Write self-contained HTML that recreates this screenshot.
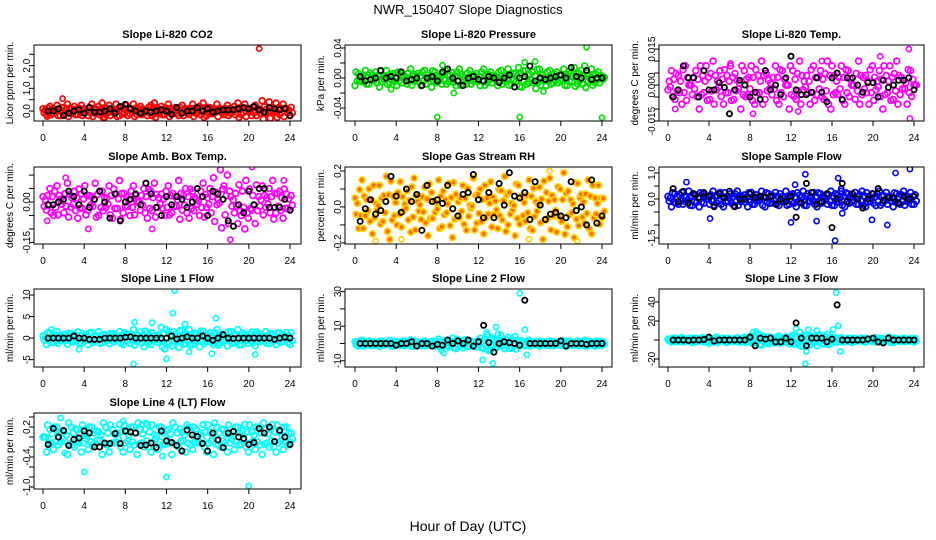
<!DOCTYPE html>
<html><head><meta charset="utf-8"><style>
html,body{margin:0;padding:0;background:#fff;}
svg{display:block;font-family:"Liberation Sans",Arial,sans-serif;}
</style></head><body>
<svg id="chart" width="936" height="540" viewBox="0 0 936 540" xmlns="http://www.w3.org/2000/svg">
<text x="468" y="14" text-anchor="middle" font-size="13">NWR_150407  Slope Diagnostics</text>
<text x="468" y="531" text-anchor="middle" font-size="14">Hour of Day (UTC)</text>
</svg>
<script>
// ---- data ----
const p1Color=[0.1,-0.15,0.2,-0.1,0.25,-0.2,0.15,0.3,-0.1,0.2,-0.15,0.25,0.05,-0.2,0.3,-0.1,0.2,0.35,-0.15,0.25,-0.05,0.3,-0.2,0.15,0.25,-0.1,0.3,-0.15,0.2,0.05,-0.2,0.25,0.35,-0.1,0.2,-0.15,0.3,-0.05,0.15,-0.2,0.25,0.1,-0.15,0.3,-0.1,0.2,0.35,-0.2,0.15,-0.1,0.3,0.05,-0.15,0.25,-0.1,0.2,0.35,-0.15,0.3,0.05,-0.2,0.25,0.1,0.45,-0.1,0.4,0.05,0.35,-0.15,0.3,0.1,-0.2];
const p1OutH=[1.9,21,0.4,6,17.4];
const p1OutV=[0.55,2.75,-0.25,-0.3,-0.1];
const p1Black=[0,0,0.1,-0.2,-0.1,0,0.05,-0.1,0.15,-0.05,-0.05,0,0.1,-0.1,0.2,0.3,0.1,0,-0.1,0,-0.05,0,0.05,0,-0.15,0.15,-0.1,0,0,0.15,0,0.1,-0.05,0,0.05,0.05,0.05,0.1,0.15,0.1,0.2,0.05,-0.05,0.15,0.1,0.05,0.1,-0.2];

const p2Color=[-0.01,0.005,-0.005,0.01,-0.008,0.004,0.008,-0.012,0.002,0.01,-0.006,0.006,-0.01,0.008,0.003,-0.008,0.012,-0.004,0.006,-0.01,0.01,0,-0.012,0.008,0.004,-0.008,0.01,-0.005,0.007,-0.01,0.012,0.002,-0.008,0.01,-0.004,0.006,-0.01,0.012,-0.006,0.008,0.002,-0.01,0.01,-0.004,0.012,-0.008,0.006,0.014,-0.012,0.01,-0.006,0.008,-0.014,0.012,0.004,-0.01,0.01,-0.006,0.008,-0.004,0.012,-0.01,0.006,0.014,-0.008,0.01,0.016,-0.004,0.012,-0.006,0.008,0.002];
const p2OutH=[8,16,24,22.5,8.5,9.6,16.5,17.5,3.5,18.3];
const p2OutV=[-0.052,-0.052,-0.053,0.041,0.017,-0.02,0.021,0.022,-0.015,-0.018];
const p2Black=[0.002,-0.004,-0.002,0,0.01,0,0.002,0,0.008,-0.004,-0.002,0,-0.01,0,0.002,-0.004,0.008,0.012,0,-0.004,-0.01,0,0.002,-0.002,-0.004,0.002,0,-0.006,0,0.004,-0.012,0,0.002,0.016,-0.004,0,-0.002,0,0.002,0.004,0,0.014,0.002,0,0.01,-0.002,0,0];

const p3Color=[-0.002,0.006,-0.006,0.004,-0.008,0.008,0,-0.004,0.006,-0.01,0.004,0.008,-0.006,0.01,-0.002,0.006,-0.008,0.004,0.008,-0.006,0.002,-0.01,0.006,-0.004,0.008,-0.008,0.004,0.01,-0.006,0.002,-0.004,0.008,-0.008,0.006,0,-0.01,0.006,-0.006,0.01,-0.002,0.004,-0.008,0.008,-0.004,0.006,-0.006,0.01,-0.01,0.004,-0.004,0.008,-0.008,0.006,0,-0.006,0.01,-0.004,0.004,-0.008,0.008,-0.002,0.006,-0.01,0.004,0.008,-0.006,0.01,-0.004,0.002,-0.008,0.006,0];
const p3OutH=[0.7,6.1,23.6,23.5,15,20.7,12.7,8.3];
const p3OutV=[-0.01,0.009,-0.014,0.015,0.01,0.012,-0.011,-0.012];
const p3Black=[-0.005,-0.002,0.008,0.003,0.003,-0.005,0.006,-0.002,-0.002,0.001,-0.001,-0.012,-0.002,0.002,0,-0.005,-0.003,-0.006,0.006,-0.002,0,-0.004,0.003,0.012,-0.002,-0.004,-0.004,-0.003,0.003,-0.003,-0.007,0.003,0.005,-0.006,0.003,0.003,0,-0.003,0.001,0.001,-0.005,0.002,-0.001,0,0.002,0.002,0.003,-0.002];

const p4Color=[0.02,-0.03,0.05,-0.05,0.06,0.01,-0.04,0.07,-0.02,0.04,-0.06,0.03,0.06,-0.03,0.02,0.07,-0.05,0.04,-0.02,0.06,-0.06,0.03,0.08,-0.04,0.02,-0.05,0.06,0,-0.03,0.05,-0.06,0.04,0.07,-0.02,0.03,-0.05,0.06,-0.04,0.02,0.08,-0.03,0.05,-0.06,0.04,0.01,-0.05,0.07,-0.02,0.05,0.09,-0.01,0.12,0.06,0.1,0.02,-0.04,-0.08,-0.05,-0.1,-0.06,-0.03,-0.08,0.02,0.06,-0.02,0.05,0.08,-0.04,0.04,-0.06,0.03,-0.03];
const p4OutH=[0.4,4.4,18.2,20.3,10.6,2.2,23.4];
const p4OutV=[-0.07,-0.1,-0.14,0.13,-0.1,0.09,0.08];
const p4Black=[-0.01,-0.01,0,0.01,0.04,0.02,-0.01,0.04,-0.02,0.01,0.04,0,-0.06,0.03,-0.07,0,0.01,0.03,-0.01,0.07,0.03,-0.02,-0.05,0.02,-0.01,0.02,0.01,-0.02,0,0.05,0.02,-0.05,0.04,0.03,0.01,-0.07,-0.09,-0.01,-0.04,0.04,-0.01,0.05,0.05,-0.02,-0.02,-0.02,0.01,-0.03];

const p5Color=[0.05,-0.12,0.15,-0.05,0.1,-0.15,0.02,0.12,-0.08,0.17,-0.18,0.06,-0.1,0.14,-0.02,0.09,-0.14,0.16,0.03,-0.07,0.11,-0.16,0.08,-0.03,0.15,-0.11,0.04,0.13,-0.17,0.07,-0.06,0.12,-0.13,0.01,0.16,-0.09,0.1,-0.15,0.05,0.14,-0.04,-0.12,0.09,0.17,-0.1,0.02,-0.16,0.12,0.06,-0.08,0.15,-0.13,0.03,0.11,-0.18,0.08,0.16,-0.05,-0.14,0.1,0.19,-0.11,0.04,-0.17,0.13,0.07,-0.09,0.15,-0.15,0.05,0.12,-0.06];
const p5OutH=[2,4.5,16.9,21.6,18.9];
const p5OutV=[-0.19,-0.18,-0.18,-0.19,0.2];
const p5Black=[-0.08,-0.01,0.04,-0.04,-0.02,0.03,0.17,0.06,-0.03,0.1,0.03,0.07,-0.13,0.12,0.03,0.04,0.02,0.12,-0.01,-0.05,0.07,0.08,0.18,0.04,-0.06,0.08,-0.06,0.13,0.01,0.19,0.06,0.05,0.08,-0.07,0.14,0.01,-0.07,-0.04,-0.03,-0.05,-0.06,0.14,-0.02,0,-0.1,0.15,-0.09,-0.05];

const p6Color=[0.1,-0.3,0.2,-0.2,0.25,-0.1,0.3,-0.25,0.15,-0.3,0.2,0,-0.2,0.3,-0.15,0.25,-0.3,0.1,0.2,-0.25,0.3,-0.1,0.15,-0.3,0.25,-0.2,0.05,0.3,-0.3,0.2,-0.15,0.25,-0.25,0.1,0.3,-0.2,0.2,-0.3,0.15,0.3,-0.25,-0.1,0.25,-0.3,0.2,0.05,-0.2,0.3,-0.25,0.15,0.3,-0.3,0.2,-0.1,0.25,-0.2,0.3,-0.3,0.1,0.2,-0.25,0.3,-0.15,0.25,0.1,-0.3,0.2,-0.2,0.3,-0.1,0.25,-0.2];
const p6OutH=[1.8,4.1,12,13.4,14.5,16.3,16.6,17,19.9,21.4,22.2,23.6,12.4,16.9];
const p6OutV=[0.65,-0.75,-0.9,0.95,-0.85,-1.6,0.8,-0.55,-0.8,-1.0,1.0,1.15,0.55,0.4];
const p6Black=[0.4,-0.1,0.3,-0.15,0.2,0.05,0.25,0.1,-0.3,0.2,0.05,0.3,-0.3,0,0,0.2,0.05,0.1,0.05,0.1,-0.2,0,-0.1,0.1,-0.7,-0.15,0.6,0.25,-0.2,-0.1,0.2,-1.1,0,0.6,-0.1,0.2,0,-0.35,0,0.2,0.4,-0.05,0.05,0.05,-0.15,0.1,0,0.1];

const p7Color=[0.5,-1.5,1.2,-1,1.5,-0.5,0.8,-1.4,1,-0.8,1.4,-1.2,0.3,-1.5,1.3,-0.6,1.5,-1,0.7,-1.3,1.1,-0.4,1.5,-1.5,0.9,-1.2,2,-0.8,1.4,-2,1.2,-1.5,0.6,-1,2.5,-2.5,1.5,-1.8,0.8,-2.2,1.8,-1.2,2,-1.5,1,-2,1.6,-0.8,1.2,-1.5,2,-1.2,0.5,-1.8,1.5,-1,2,-1.5,0.8,-1.2,1.4,-1.8,1,-0.6,1.5,-1.3,0.9,-1.5,1.2,-0.8,1.3,-1.5];
const p7OutH=[8.8,12.8,12.6,8.9,10.6,13.8,16.8,16.4,3.5,20.6,12,14.2,0.8];
const p7OutV=[-6,11,5.8,3.7,3.6,3.2,4.6,-3.6,-2.6,-3.8,-4.8,-3.2,2];
const p7Black=[0,0,0,0,0,0.5,0,0,-0.3,-0.3,-0.3,0,0,0,0,0.2,0.3,0,0,0,0,0,0,0,0.5,-0.2,0,0.3,0,0,0.5,0,-0.5,0,0.8,0,-0.1,0,0,0,0,0,0,0,-0.3,0,0.2,0];

const p8Color=[1,-1.5,1.8,-0.8,1.5,-1.2,0.5,-1.8,1.2,-0.5,1.8,-1.5,1,-1.2,1.5,-0.8,2,-1.5,0.8,-1.2,1.5,-0.6,1.2,-1.5,2.5,-1,1.8,-2,3,-3,1.5,-2.5,2,-1.5,1,-2,3,-3,5,-4,2.5,-2,1.5,-3,3.5,-2.5,4,-1.5,1.5,-1.2,1.8,-0.8,1.2,-1.5,1,-1,1.5,-1.2,0.8,-1,1.5,-1.5,1.2,-0.8,1.5,-1,1.8,-1.2,1,-1.5,1.2,-1];
const p8OutH=[16,16.5,12.4,13.4,13.7,16.7,8.4,8.6,12.8,14.2,13.9];
const p8OutV=[29,8,-9.5,-11.5,9.5,-6.5,-4,-5.5,6.5,5,5.5];
const p8Black=[0,0,0,0,0,0,0,-1,0,0,1,-1.5,0,0,-1.5,-0.5,-1,2,0,1.5,0,2,-1.5,1,10.5,0.5,-5,0,1,0.5,0,-1,25,0,0,0,0,0,0,1.5,-1.5,0,0,0,-0.5,0,0,0];

const p9Color=[1,-2,2,-1.5,2.5,-1,1.5,-2.5,2,-1,2.5,-2,1.5,-2,3,-1,2,-2.5,1,-1.5,2.5,-2,3,-1.5,4,-3,6,-5,3,-4,2.5,-3,4,-2.5,3,-4,5,-4,8,-6,4,-5,3,-6,5,-4,6,-3,3,-2,2.5,-1.5,2,-2.5,1.5,-1,2,-2,1,-1.5,2.5,-2,1.5,-1,3,-2.5,1,-1.5,2,-1,1.5,-2];
const p9OutH=[16.4,16.6,16.1,12.5,13.4,13.5,13.7,14.5,16.8,8.6,8.3,4,12.7];
const p9OutV=[50,15,11,12,-25,-12,11,10,-12,9,8,-4,-5];
const p9Black=[0,0,0,-0.5,0,0,0.5,3,-1,0,0,0,0,0,0,3,-6,2,1,2,-2,-2,2,-2,18,2,-6,2,2,2,-2,1,37,0,0,0,0,0,1,2,-2,-3,2,0,0,0,0,0];

const p10Color=[0,-0.3,0.15,-0.25,0.2,-0.1,0.1,-0.35,0.2,-0.2,0.15,-0.3,0.05,-0.25,0.2,-0.15,0.1,-0.35,0.2,-0.3,0.15,-0.1,0.25,-0.3,0.1,-0.25,0.2,-0.35,0.15,-0.2,0.25,-0.3,0.05,-0.25,0.2,-0.15,0.15,-0.35,0.2,-0.2,0.1,-0.3,0.2,-0.25,0.15,-0.1,0.25,-0.3,0.1,-0.35,0.2,-0.2,0.15,-0.3,0.05,-0.25,0.2,-0.15,0.25,-0.3,0.1,-0.25,0.2,-0.35,0.15,-0.2,0.25,-0.3,0.1,-0.25,0.2,-0.1];
const p10OutH=[1.7,7.8,10,4,12,20,2.1,11.6,9.6];
const p10OutV=[0.38,0.32,0.28,-0.7,-0.8,-0.98,-0.32,-0.38,0.25];
const p10Black=[-0.15,0.17,0,0.13,-0.17,-0.05,-0.02,0.12,0.08,-0.2,-0.2,-0.12,-0.13,0.07,-0.13,0.12,0.1,0.08,-0.17,-0.16,-0.12,-0.21,0.12,-0.08,-0.11,-0.17,-0.28,0.14,0.04,0.01,-0.13,-0.28,0.08,-0.06,-0.21,0.08,0.11,0,-0.03,-0.15,-0.11,0.17,0.08,0.2,-0.09,0.13,0,-0.15];

const xTickLabels=["0","4","8","12","16","20","24"];
const p1Ticks=[0,0.5,1,1.5,2,2.5]; const p1Labels=["0.0","","1.0","","2.0",""];
const p2Ticks=[-0.04,-0.02,0,0.02,0.04]; const p2Labels=["-0.04","","0.00","","0.04"];
const p3Ticks=[-0.015,-0.01,-0.005,0,0.005,0.01,0.015]; const p3Labels=["-0.015","","","0.000","","","0.015"];
const p4Ticks=[-0.15,-0.1,-0.05,0,0.05,0.1]; const p4Labels=["-0.15","","","0.00","",""];
const p5Ticks=[-0.2,-0.1,0,0.1,0.2]; const p5Labels=["-0.2","","0.0","","0.2"];
const p6Ticks=[-1.5,-1,-0.5,0,0.5,1]; const p6Labels=["-1.5","","","0.0","","1.0"];
const p7Ticks=[-5,0,5,10]; const p7Labels=["-5","0","5","10"];
const p8Ticks=[-10,0,10,20,30]; const p8Labels=["-10","","10","","30"];
const p9Ticks=[-20,0,20,40]; const p9Labels=["-20","","20","40"];
const p10Ticks=[-1,-0.8,-0.6,-0.4,-0.2,0,0.2,0.4]; const p10Labels=["-1.0","","","-0.4","","","0.2",""];

const NS="http://www.w3.org/2000/svg";
const svg=document.getElementById('chart');
function mk(tag,attrs,parent){const e=document.createElementNS(NS,tag);for(const k in attrs)e.setAttribute(k,attrs[k]);(parent||svg).appendChild(e);return e;}

const cols=[{l:34,r:301,x0:43,x24:290},{l:345,r:612,x0:355,x24:602},{l:659,r:924,x0:668,x24:914}];
const rows=[{t:45,b:121},{t:167,b:244},{t:289,b:367},{t:413,b:489}];

const panels=[
 {title:"Slope Li-820 CO2",yl:"Licor ppm per min.",c:0,r:0,ymin:-0.44,ymax:2.91,color:p1Color,oh:p1OutH,ov:p1OutV,black:p1Black,ticks:p1Ticks,labels:p1Labels,stroke:"#ff0000",fill:"none"},
 {title:"Slope Li-820 Pressure",yl:"kPa per min.",c:1,r:0,ymin:-0.0573,ymax:0.044,color:p2Color,oh:p2OutH,ov:p2OutV,black:p2Black,ticks:p2Ticks,labels:p2Labels,stroke:"#00dd00",fill:"none"},
 {title:"Slope Li-820 Temp.",yl:"degrees C per min.",c:2,r:0,ymin:-0.015,ymax:0.0167,color:p3Color,oh:p3OutH,ov:p3OutV,black:p3Black,ticks:p3Ticks,labels:p3Labels,stroke:"#ff00ff",fill:"none"},
 {title:"Slope Amb. Box Temp.",yl:"degrees C per min.",c:0,r:1,ymin:-0.156,ymax:0.13,color:p4Color,oh:p4OutH,ov:p4OutV,black:p4Black,ticks:p4Ticks,labels:p4Labels,stroke:"#ff00ff",fill:"none"},
 {title:"Slope Gas Stream RH",yl:"percent per min.",c:1,r:1,ymin:-0.206,ymax:0.222,color:p5Color,oh:p5OutH,ov:p5OutV,black:p5Black,ticks:p5Ticks,labels:p5Labels,stroke:"#ffd000",fill:"#ff6a00"},
 {title:"Slope Sample Flow",yl:"ml/min per min.",c:2,r:1,ymin:-1.73,ymax:1.23,color:p6Color,oh:p6OutH,ov:p6OutV,black:p6Black,ticks:p6Ticks,labels:p6Labels,stroke:"#0000ff",fill:"none"},
 {title:"Slope Line 1 Flow",yl:"ml/min per min.",c:0,r:2,ymin:-6.7,ymax:11.4,color:p7Color,oh:p7OutH,ov:p7OutV,black:p7Black,ticks:p7Ticks,labels:p7Labels,stroke:"#00ffff",fill:"none"},
 {title:"Slope Line 2 Flow",yl:"ml/min per min.",c:1,r:2,ymin:-13.6,ymax:31.5,color:p8Color,oh:p8OutH,ov:p8OutV,black:p8Black,ticks:p8Ticks,labels:p8Labels,stroke:"#00ffff",fill:"none"},
 {title:"Slope Line 3 Flow",yl:"ml/min per min.",c:2,r:2,ymin:-28.4,ymax:53.7,color:p9Color,oh:p9OutH,ov:p9OutV,black:p9Black,ticks:p9Ticks,labels:p9Labels,stroke:"#00ffff",fill:"none"},
 {title:"Slope Line 4 (LT) Flow",yl:"ml/min per min.",c:0,r:3,ymin:-1.04,ymax:0.48,color:p10Color,oh:p10OutH,ov:p10OutV,black:p10Black,ticks:p10Ticks,labels:p10Labels,stroke:"#00ffff",fill:"none"}
];

panels.forEach((p,pi)=>{
  const C=cols[p.c],R=rows[p.r];
  const xs=h=>C.x0+(C.x24-C.x0)*h/24;
  const ys=v=>R.b-(v-p.ymin)/(p.ymax-p.ymin)*(R.b-R.t);
  const g=mk('g',{});
  
  
  const clipId='clip'+pi;
  const cp=mk('clipPath',{id:clipId},g);
  mk('rect',{x:C.l,y:R.t,width:C.r-C.l,height:R.b-R.t},cp);
  const pts=mk('g',{'clip-path':'url(#'+clipId+')'},g);
  const n=p.color.length;
  const copies=[[0,1],[0.33,-0.8],[0.66,0.4]];
  p.color.forEach((v,i)=>{
    copies.forEach(cc=>{
      const c=mk('circle',{cx:xs((i+cc[0])*24/(n-1)),cy:ys(v*cc[1]),r:2.9,fill:p.fill,stroke:p.stroke,'stroke-width':1.8},pts);
      
      
    });
  });
  p.oh.forEach((h,i)=>{
    const c=mk('circle',{cx:xs(h),cy:ys(p.ov[i]),r:2.6,fill:'none',stroke:p.stroke,'stroke-width':1.6},pts);
    
    
  });
  const m=p.black.length;
  p.black.forEach((v,i)=>{
    const c=mk('circle',{cx:xs((i+1)*24/m),cy:ys(v),r:2.6,fill:'none',stroke:'#000','stroke-width':1.8},pts);
    
    
  });
  const box=mk('rect',{x:C.l,y:R.t,width:C.r-C.l,height:R.b-R.t,fill:'none',stroke:'#000','stroke-width':1},g);
  
  
  const t=mk('text',{x:(C.l+C.r)/2,y:R.t-7,'text-anchor':'middle','font-size':11,'font-weight':'bold'},g);
  t.textContent=p.title;
  
  
  xTickLabels.forEach((lab,i)=>{
    const x=xs(i*4);
    mk('line',{x1:x,x2:x,y1:R.b,y2:R.b+5,stroke:'#000','stroke-width':1},g);
    const tx=mk('text',{x:x,y:R.b+20,'text-anchor':'middle','font-size':10},g);
    tx.textContent=lab;
    
    
  });
  p.ticks.forEach((v,i)=>{
    const y=ys(v);
    mk('line',{x1:C.l-5,x2:C.l,y1:y,y2:y,stroke:'#000','stroke-width':1},g);
    if(p.labels[i]){
      const tx=mk('text',{x:C.l-4,y:y,'text-anchor':'middle','font-size':10,transform:'rotate(-90 '+(C.l-4)+' '+y+')'},g);
      tx.textContent=p.labels[i];
      
      
    }
  });
  const yc=(R.t+R.b)/2;
  const yl=mk('text',{x:C.l-21,y:yc,'text-anchor':'middle','font-size':10,transform:'rotate(-90 '+(C.l-21)+' '+yc+')'},g);
  yl.textContent=p.yl;
  
  
});
</script>
</body></html>
